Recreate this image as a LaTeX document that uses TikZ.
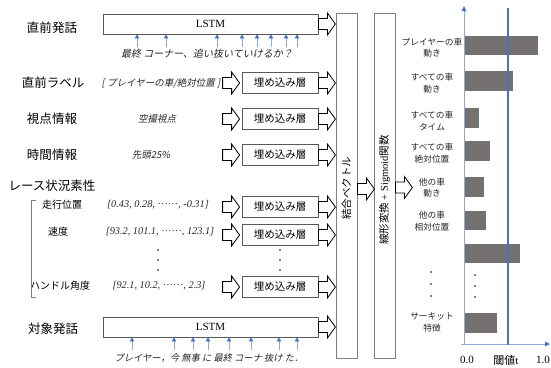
\documentclass[tikz,border=0pt]{standalone}
\usepackage{fontspec}
\setmainfont{Liberation Serif}
\newfontfamily\jp[AutoFakeSlant=0.2]{Noto Sans CJK JP}
\usetikzlibrary{arrows.meta,calc}
\definecolor{bord}{HTML}{595959}
\definecolor{lbord}{HTML}{7F7F7F}
\definecolor{barc}{HTML}{767171}
\definecolor{axc}{HTML}{8FAADC}
\definecolor{blu}{HTML}{4472C4}
\definecolor{txt}{HTML}{262626}
\newcommand{\jdots}{\raisebox{0.28em}{\upshape ……}}
\begin{document}
\begin{tikzpicture}[x=1pt,y=-1pt,
 box/.style={draw=bord, line width=0.8pt, inner sep=0pt, font=\fontsize{11}{12}\selectfont},
 embbox/.style={box, minimum width=76pt, minimum height=21pt, font=\jp\fontsize{10.5}{12}\selectfont},
 lstmbox/.style={box, minimum width=215pt, minimum height=20pt},
 tallbox/.style={draw=lbord, line width=0.8pt, minimum width=21pt, minimum height=345pt, inner sep=0pt},
 head/.style={font=\jp\fontsize{12.5}{14}\selectfont, text=black},
 sub/.style={font=\jp\fontsize{10}{12}\selectfont},
 val/.style={font=\itshape\fontsize{10.3}{11}\selectfont, text=txt},
 jval/.style={font=\jp\itshape\fontsize{9.5}{11}\selectfont, text=txt},
 vlab/.style={rotate=90, font=\fontsize{10.5}{12}\selectfont},
 clab/.style={font=\jp\fontsize{8.7}{11.5}\selectfont, align=center, text=txt},
 uparrow/.style={draw=axc, line width=0.8pt, -{Triangle[length=4pt,width=4.5pt,fill=blu,color=blu]}},
 axis/.style={draw=axc, line width=0.8pt, -{Triangle[length=5pt,width=4.5pt,fill=blu,color=blu]}},
 hollow/.pic={\draw[line width=0.8pt, draw=black, fill=white] (0,-5.5) -- (9,-5.5) -- (9,-11) -- (17,0) -- (9,11) -- (9,5.5) -- (0,5.5) -- cycle;},
]
\useasboundingbox (0,0) rectangle (551,367);

% main boxes
\node[lstmbox] (lstm1) at (210.5,24) {LSTM};
\node[lstmbox] (lstm2) at (210.5,327) {LSTM};
\node[embbox] (e1) at (280,83) {埋め込み層};
\node[embbox] (e2) at (280,119) {埋め込み層};
\node[embbox] (e3) at (280,155) {埋め込み層};
\node[embbox] (e4) at (280,207) {埋め込み層};
\node[embbox] (e5) at (280,235) {埋め込み層};
\node[embbox] (e6) at (280,287) {埋め込み層};
\node[tallbox] (cat) at (346.5,185.5) {};
\node[vlab] (catlab) at (346.5,188) {\jp 結合ベクトル};
\node[tallbox] (lin) at (384.5,185.5) {};
\node[vlab] (linlab) at (384.5,190) {{\jp 線形変換} + Sigmoid{\jp 関数}};

% hollow arrows
\foreach \n in {lstm1,e1,e2,e3,e4,e5,e6,lstm2} \pic at (\n.east) {hollow};
\foreach \n in {e1,e2,e3,e4,e5,e6} \pic at ($(\n.west)+(-19,0)$) {hollow};
\pic at ($(cat.east)+(0,3.5)$) {hollow};
\pic at ($(lin.east)+(0,2)$) {hollow};

% left labels
\node[head] (l1) at (52,28) {直前発話};
\node[head] (l2) at (53,83) {直前ラベル};
\node[head] (l3) at (52,119) {視点情報};
\node[head] (l4) at (52,155) {時間情報};
\node[head] (l5) at (52,186) {レース状況素性};
\node[sub] (s1) at (62,205) {走行位置};
\node[sub] (s2) at (58,232) {速度};
\node[sub] (s3) at (60,286) {ハンドル角度};
\node[head] (l6) at (53,329) {対象発話};
\draw[lbord, line width=0.7pt] (36,200) -- (31,200) -- (31,297) -- (36,297);

% values
\node[jval] (v1) at (161,83) {[ プレイヤーの車/絶対位置 ]};
\node[jval] (v2) at (157,119) {空撮視点};
\node[jval] (v3) at (151,155) {先頭25\%};
\node[val] (v4) at (158,205) {[0.43, 0.28, \jdots, -0.31]};
\node[val] (v5) at (160,232) {[93.2, 101.1, \jdots, 123.1]};
\node[val] (v6) at (159,286) {[92.1, 10.2, \jdots, 2.3]};
\foreach \y in {250,260,270} {\fill (158,\y) circle (0.8); \fill (280,\y) circle (0.8);}

% utterances
\foreach \x in {137,166,217,242,257,271,286,297} \draw[uparrow] (\x,47) -- (lstm1.south -| \x,0);
\node[jval, font=\jp\itshape\fontsize{10}{11}\selectfont] (u1) at (207,54) {最終 コーナー、追い抜いていけるか？};
\foreach \x in {132,174,193,208,229,251,279,297} \draw[uparrow] (\x,350) -- (lstm2.south -| \x,0);
\node[jval, font=\jp\itshape\fontsize{9.3}{11}\selectfont] (u2) at (209,358) {プレイヤー，今 無事 に 最終 コーナ 抜け た．};

% chart
\fill[barc] (465,36) rectangle (538,55);
\fill[barc] (465,71) rectangle (513,91);
\fill[barc] (465,108) rectangle (479,128);
\fill[barc] (465,141) rectangle (490,161);
\fill[barc] (465,177) rectangle (484,197);
\fill[barc] (465,211) rectangle (486,230);
\fill[barc] (465,244) rectangle (520,263);
\fill[barc] (465,313) rectangle (497,333);
\draw[axis] (464,345) -- (464,6);
\draw[axis] (461,344) -- (550,344);
\draw[blu, line width=1.4pt] (508,8) -- (508,345);
\node[clab] (c1) at (432,47.5) {プレイヤーの車\\動き};
\node[clab] (c2) at (432,83) {すべての車\\動き};
\node[clab] (c3) at (432,121) {すべての車\\タイム};
\node[clab] (c4) at (432,153) {すべての車\\絶対位置};
\node[clab] (c5) at (432,187.5) {他の車\\動き};
\node[clab] (c6) at (432,221) {他の車\\相対位置};
\node[clab] (c7) at (432,322.5) {サーキット\\特徴};
\foreach \y in {272,284,296} \fill (431,\y) circle (0.8);
\foreach \y in {275,286,297} \fill (475,\y) circle (0.8);
\node[font=\fontsize{11}{12}\selectfont] (a0) at (467,360) {0.0};
\node[font=\fontsize{11}{12}\selectfont] (at) at (506,360) {{\jp 閾値}t};
\node[font=\fontsize{11}{12}\selectfont] (a1) at (543,360) {1.0};
\end{tikzpicture}
\end{document}
